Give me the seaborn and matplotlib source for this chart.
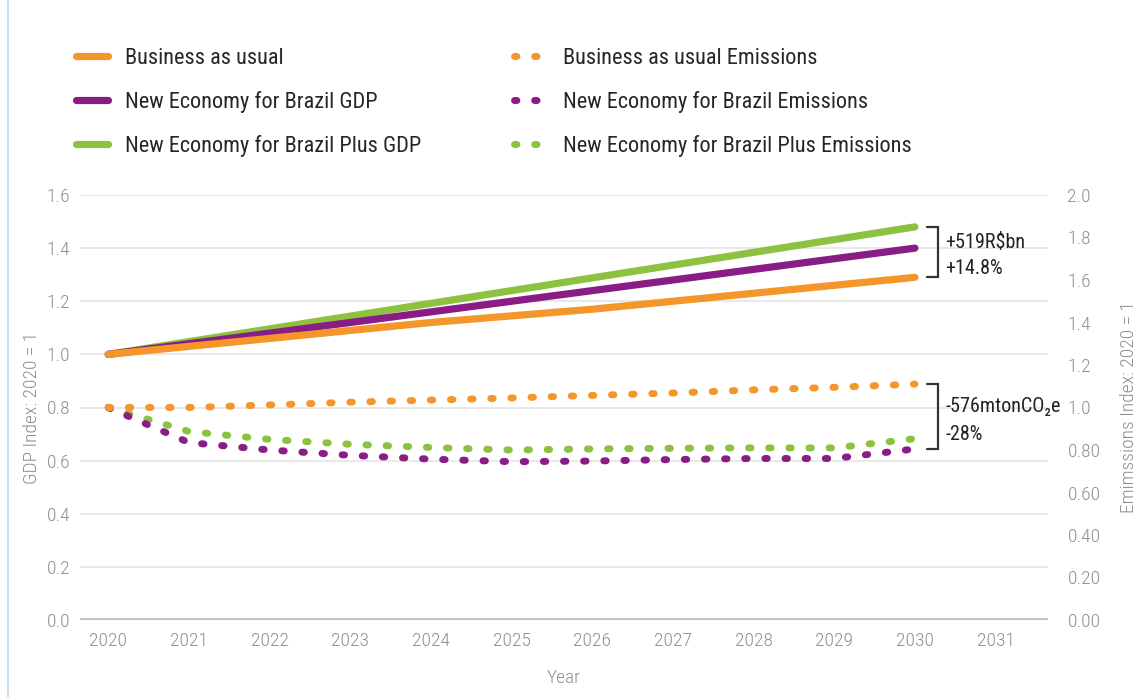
import matplotlib
matplotlib.use("Agg")
import matplotlib.pyplot as plt
from matplotlib import font_manager
from matplotlib.lines import Line2D
from matplotlib.ticker import FixedLocator, FixedFormatter
import seaborn as sns
import pandas as pd

# ---- data -------------------------------------------------------------
years = [2020, 2021, 2022, 2023, 2024, 2025, 2026, 2027, 2028, 2029, 2030]

gdp_bau = [1.00, 1.03, 1.06, 1.09, 1.12, 1.145, 1.17, 1.20, 1.23, 1.26, 1.29]
gdp_neb = [1.00, 1.04, 1.08, 1.12, 1.16, 1.20, 1.24, 1.28, 1.32, 1.36, 1.40]
gdp_nebp = [1.00, 1.048, 1.096, 1.144, 1.192, 1.24, 1.288, 1.336, 1.384, 1.432, 1.48]

emis_bau = [1.00, 1.00, 1.012, 1.025, 1.035, 1.045, 1.057, 1.068, 1.083, 1.095, 1.11]
emis_neb = [1.00, 0.835, 0.80, 0.775, 0.757, 0.745, 0.748, 0.755, 0.76, 0.76, 0.805]
emis_nebp = [1.00, 0.887, 0.85, 0.827, 0.812, 0.80, 0.805, 0.808, 0.81, 0.81, 0.853]

series_labels = [
    "Business as usual",
    "New Economy for Brazil GDP",
    "New Economy for Brazil Plus GDP",
    "Business as usual Emissions",
    "New Economy for Brazil Emissions",
    "New Economy for Brazil Plus Emissions",
]

x_ticks = list(range(2020, 2032))
gdp_ticks = [0.0, 0.2, 0.4, 0.6, 0.8, 1.0, 1.2, 1.4, 1.6]
gdp_tick_labels = ["0.0", "0.2", "0.4", "0.6", "0.8", "1.0", "1.2", "1.4", "1.6"]
emis_ticks = [0.0, 0.2, 0.4, 0.6, 0.8, 1.0, 1.2, 1.4, 1.6, 1.8, 2.0]
emis_tick_labels = ["0.00", "0.20", "0.40", "0.60", "0.80", "1.0", "1.2",
                    "1.4", "1.6", "1.8", "2.0"]

gdp_note = ["+519R$bn", "+14.8%"]
emis_note = ["-576mtonCO\u2082e", "-28%"]

# ---- style ------------------------------------------------------------
ORANGE = "#F5962A"
PURPLE = "#8A1C86"
GREEN = "#8CC240"
TICK_GREY = "#8f8f8f"
GRID_GREY = "#e3e3e3"

sns.set_theme(style="white")
available = {f.name for f in font_manager.fontManager.ttflist}
narrow = "DejaVu Sans"
for cand in ["Liberation Sans Narrow", "Roboto Condensed", "DejaVu Sans Condensed",
             "Open Sans Condensed", "Roboto", "Liberation Sans"]:
    if cand in available:
        narrow = cand
        break
plt.rcParams["font.family"] = [narrow, "DejaVu Sans"]

fig = plt.figure(figsize=(11.43, 6.97), dpi=100)
ax = fig.add_axes([80 / 1143, 1 - 620 / 697, (1048 - 80) / 1143, (620 - 195) / 697])
ax2 = ax.twinx()

# GDP (left axis)
gdp_df = pd.DataFrame({"year": years, "bau": gdp_bau, "neb": gdp_neb, "nebp": gdp_nebp})
for col, color, z in [("nebp", GREEN, 3), ("neb", PURPLE, 3), ("bau", ORANGE, 4)]:
    sns.lineplot(data=gdp_df, x="year", y=col, ax=ax, color=color, lw=5.2,
                 solid_capstyle="round", zorder=z)

# Emissions (right axis), dotted
dot_style = (0, (0.35, 2.55))
DOT_LW = 5.0
emis_df = pd.DataFrame({"year": years, "bau": emis_bau, "neb": emis_neb, "nebp": emis_nebp})
for col, color in [("nebp", GREEN), ("neb", PURPLE), ("bau", ORANGE)]:
    sns.lineplot(data=emis_df, x="year", y=col, ax=ax2, color=color, lw=DOT_LW,
                 linestyle=dot_style, dash_capstyle="round", zorder=3)

# axes ranges and ticks
ax.set_xlim(2019.65, 2031.65)
ax.set_ylim(0, 1.6)
ax2.set_ylim(0, 2.0)
ax.xaxis.set_major_locator(FixedLocator(x_ticks))
ax.xaxis.set_major_formatter(FixedFormatter([str(y) for y in x_ticks]))
ax.yaxis.set_major_locator(FixedLocator(gdp_ticks))
ax.yaxis.set_major_formatter(FixedFormatter(gdp_tick_labels))
ax2.yaxis.set_major_locator(FixedLocator(emis_ticks))
ax2.yaxis.set_major_formatter(FixedFormatter(emis_tick_labels))

ax.grid(axis="y", color=GRID_GREY, lw=1.1)
ax.grid(axis="x", visible=False)
ax2.grid(False)
ax.set_axisbelow(True)
for a in (ax, ax2):
    for side in ("top", "right", "left", "bottom"):
        a.spines[side].set_visible(False)
ax.axhline(0, color="#bdbdbd", lw=2.6, zorder=2)

ax.tick_params(axis="both", length=0, labelsize=14, labelcolor=TICK_GREY)
ax.tick_params(axis="x", pad=9)
ax.tick_params(axis="y", pad=7)
ax2.tick_params(axis="y", length=0, labelsize=14, labelcolor=TICK_GREY, pad=14)
for lab in ax.get_xticklabels() + ax.get_yticklabels() + ax2.get_yticklabels():
    lab.set_fontweight("light")

ax.set_xlabel("Year", fontsize=14, color=TICK_GREY, labelpad=13, fontweight="light")
ax.set_ylabel("GDP Index: 2020 = 1", fontsize=14, color=TICK_GREY, labelpad=4,
              fontweight="light")
ax2.set_ylabel("Emimssions Index: 2020 = 1", fontsize=14, color=TICK_GREY,
               labelpad=14, fontweight="light")

# brackets with the 2030 gaps
x_end = years[-1]
bx0, bx1, tx = x_end + 0.15, x_end + 0.29, x_end + 0.38


def bracket(axis, top, bottom, lines, up, down):
    axis.plot([bx0, bx1, bx1, bx0], [top, top, bottom, bottom], color="#333333",
              lw=1.6, solid_joinstyle="miter", zorder=5)
    mid = (top + bottom) / 2
    axis.annotate(lines[0], xy=(tx, mid), xytext=(0, up), textcoords="offset points",
                  va="center", ha="left", fontsize=14.5, color="#222222")
    axis.annotate(lines[1], xy=(tx, mid), xytext=(0, down), textcoords="offset points",
                  va="center", ha="left", fontsize=14.5, color="#222222")


bracket(ax, gdp_nebp[-1], gdp_bau[-1], gdp_note, 7, -12)
bracket(ax2, emis_bau[-1], emis_neb[-1], emis_note, 7, -13)

# legend
handles = [
    Line2D([], [], color=ORANGE, lw=5.2, solid_capstyle="round"),
    Line2D([], [], color=PURPLE, lw=5.2, solid_capstyle="round"),
    Line2D([], [], color=GREEN, lw=5.2, solid_capstyle="round"),
    Line2D([], [], color=ORANGE, lw=DOT_LW, linestyle=dot_style, dash_capstyle="round"),
    Line2D([], [], color=PURPLE, lw=DOT_LW, linestyle=dot_style, dash_capstyle="round"),
    Line2D([], [], color=GREEN, lw=DOT_LW, linestyle=dot_style, dash_capstyle="round"),
]
fig.legend(handles, series_labels, ncol=2, loc="upper left",
           bbox_to_anchor=(56 / 1143, 1 - 28 / 697), frameon=False,
           fontsize=16, handlelength=1.45, handletextpad=0.75,
           columnspacing=4.2, labelspacing=0.98)

# thin page rule on the left edge
fig.add_artist(Line2D([8 / 1143, 8 / 1143], [0, 1], color="#c9d9ee", lw=1.5))

fig.savefig("out.png", dpi=100, facecolor="white")
